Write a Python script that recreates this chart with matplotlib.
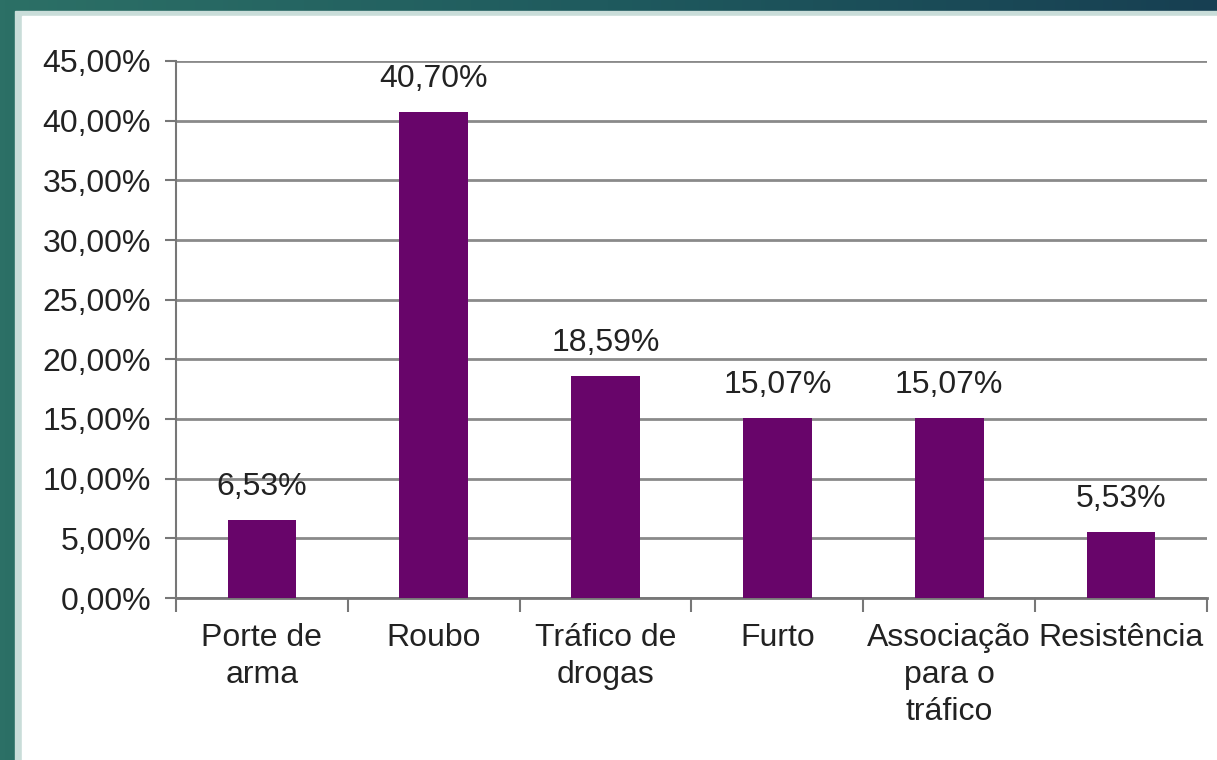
import numpy as np
import matplotlib
matplotlib.use('Agg')
import matplotlib.pyplot as plt
from matplotlib.patches import Rectangle
from matplotlib.colors import LinearSegmentedColormap

plt.rcParams['font.family'] = ['Liberation Sans', 'DejaVu Sans']

# data
categorias = ['Porte de\narma', 'Roubo', 'Tráfico de\ndrogas', 'Furto',
              'Associação\npara o\ntráfico', 'Resistência']
valores = [6.53, 40.70, 18.59, 15.07, 15.07, 5.53]
rotulos = ['6,53%', '40,70%', '18,59%', '15,07%', '15,07%', '5,53%']
yticks = [0, 5, 10, 15, 20, 25, 30, 35, 40, 45]

fig = plt.figure(figsize=(12.17, 7.6), dpi=100)

# teal slide background with gradient
bg = fig.add_axes([0, 0, 1, 1], zorder=-10)
cmap = LinearSegmentedColormap.from_list('slide', ['#2c7066', '#1f5a5e', '#173f52'])
grad = np.linspace(0, 1, 256).reshape(1, -1)
bg.imshow(grad, aspect='auto', cmap=cmap, extent=[0, 1, 0, 1])
bg.set_xlim(0, 1)
bg.set_ylim(0, 1)
bg.axis('off')
# light edge + white panel
bg.add_patch(Rectangle((15 / 1217, 0), 1, 1 - 11 / 760, color='#c9ddd9', zorder=2))
bg.add_patch(Rectangle((22 / 1217, 0), 1, 1 - 16 / 760, color='white', zorder=3))

ax = fig.add_axes([176 / 1217, 162 / 760, 1031 / 1217, 537 / 760])
x = np.arange(len(categorias))
ax.bar(x, valores, width=0.4, color='#68056a', zorder=3)

for xi, v, r in zip(x, valores, rotulos):
    ax.annotate(r, (xi, v), xytext=(0, 13), textcoords='offset points',
                ha='center', va='bottom', fontsize=23, color='#222222')

ax.set_xlim(-0.5, len(categorias) - 0.5)
ax.set_ylim(0, 45)
ax.set_yticks(yticks)
ax.set_yticklabels(['%d,00%%' % t for t in yticks], fontsize=23, color='#222222')
ax.yaxis.grid(True, color='#8a8a8a', linewidth=2, zorder=0)
ax.set_axisbelow(True)

ax.set_xticks(x)
ax.set_xticklabels(categorias, fontsize=23, color='#222222', linespacing=1.3)
ax.tick_params(axis='x', length=0, pad=18)
ax.set_xticks(np.arange(-0.5, len(categorias)), minor=True)
ax.tick_params(axis='x', which='minor', length=10, width=1.5, color='#777777', direction='out')
ax.tick_params(axis='y', length=8, width=1.5, color='#777777', pad=10)

for s in ['top', 'right']:
    ax.spines[s].set_visible(False)
ax.spines['left'].set_color('#777777')
ax.spines['left'].set_linewidth(1.5)
ax.spines['bottom'].set_color('#777777')
ax.spines['bottom'].set_linewidth(2)
ax.set_facecolor('none')

fig.savefig('out.png', dpi=100)
